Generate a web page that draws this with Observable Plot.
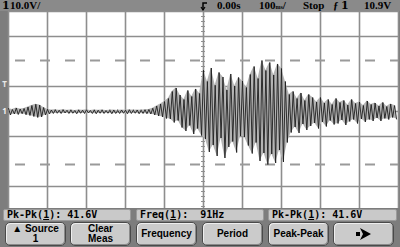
<!DOCTYPE html>
<html><head><meta charset="utf-8">
<script src="https://cdn.jsdelivr.net/npm/d3@7"></script>
<script src="https://cdn.jsdelivr.net/npm/@observablehq/plot@0.6"></script>
<style>
html,body{margin:0;padding:0;background:#7d7d7d;}
#scope{position:relative;width:400px;height:247px;background:#7d7d7d;overflow:hidden;}
#plot{position:absolute;left:0;top:11px;}
#topbar{position:absolute;left:0;top:0;width:400px;height:11px;background:#8a8a8a;font-family:"Liberation Serif","DejaVu Serif",serif;font-weight:bold;color:#000;}
#topbar span{position:absolute;top:0;line-height:11px;font-size:11px;white-space:nowrap;}
#topbar span.big{font-family:"DejaVu Serif",serif;font-size:11px;}
#topbar small{font-size:6px;}
#meas{position:absolute;left:0;top:208px;width:400px;height:13px;background:#7d7d7d;}
.mbox{position:absolute;top:1px;height:10px;background:#c9c9c9;border:1px solid #9a9a9a;border-radius:2px;font-family:"DejaVu Sans Mono",monospace;font-weight:bold;font-size:10px;line-height:10px;padding-left:3px;box-sizing:content-box;white-space:pre;color:#000;}
#keys{position:absolute;left:0;top:221px;width:400px;height:26px;background:#7d7d7d;}
.key{position:absolute;top:1px;width:59px;height:22px;background:#cbcbcb;border:1px solid #4a4a4a;border-radius:5px;box-shadow:inset -1px -1px 0 #8a8a8a, inset 1px 1px 0 #eee;font-family:"Liberation Sans",Arial,sans-serif;font-weight:bold;font-size:10px;color:#000;display:flex;flex-direction:column;align-items:center;justify-content:center;line-height:10px;text-align:center;}
</style></head>
<body>
<div id="scope">
  <div id="plot"></div>
  <div id="topbar"></div>
  <div id="meas"></div>
  <div id="keys"></div>
</div>
<script>
// ---- data ----
// waveform: per 10 ms cycle, the positive peak (hi) and the following negative peak (lo), in volts
const hi = [
  1.2, 0.8, 1.4, 1.0, 1.2, 1.8, 2.4, 2.9, 2.6, 1.6,
  0.9, 0.6, 0.7, 0.5, 0.7, 0.5, 0.6, 0.4, 0.6, 0.5,
  0.7, 0.4, 0.6, 0.5, 0.6, 0.4, 0.5, 0.6, 0.4, 0.6,
  0.5, 0.7, 0.5, 0.6, 0.5, 0.7, 0.8, 1.3, 2.2, 3.0,
  4.0, 5.2, 8.0, 9.4, 6.6, 4.8, 8.4, 6.0, 9.0, 7.2,
  16.5, 12.0, 17.4, 10.5, 15.6, 13.8, 8.6, 15.0, 10.2, 13.6,
  12.2, 9.6, 14.8, 18.0, 13.2, 20.4, 16.4, 19.6, 14.6, 19.0,
  17.2, 12.0, 6.8, 8.0, 5.2, 7.4, 4.4, 6.8, 5.6, 3.8,
  5.6, 3.4, 4.8, 2.8, 5.2, 3.6, 4.4, 2.6, 4.8, 3.2,
  3.8, 2.4, 4.2, 2.8, 3.4, 2.2, 3.6, 2.0, 3.0, 2.4
];
const lo = [
  -1.4, -1.0, -1.2, -0.9, -1.3, -1.6, -2.0, -2.4, -2.2, -1.4,
  -1.0, -0.8, -0.7, -0.8, -0.6, -0.8, -0.7, -0.9, -0.7, -0.8,
  -0.6, -0.8, -0.9, -0.7, -0.8, -0.7, -0.9, -0.8, -0.8, -0.7,
  -0.9, -0.8, -0.7, -0.9, -0.8, -0.9, -1.0, -1.4, -1.8, -2.2,
  -2.8, -3.0, -4.4, -3.6, -6.4, -7.8, -5.6, -9.0, -6.8, -9.6,
  -11.0, -16.2, -13.4, -17.8, -10.6, -18.6, -14.2, -12.0, -16.4, -9.8,
  -10.2, -13.6, -16.8, -12.4, -19.8, -16.6, -21.2, -17.0, -20.6, -15.4,
  -20.2, -12.4, -8.4, -6.2, -8.6, -5.0, -7.4, -5.8, -4.6, -6.8,
  -4.2, -6.0, -3.6, -5.2, -4.8, -3.4, -5.4, -4.0, -3.2, -4.8,
  -3.0, -4.2, -3.2, -3.8, -2.6, -3.8, -2.8, -3.2, -2.4, -3.0
];
const sampleStartMs = -500, cyclePeriodMs = 10;
const timeGridMs = [-500, -400, -300, -200, -100, 0, 100, 200, 300, 400, 500];
const voltGrid = [-40, -30, -10, 0, 10, 30, 40];
const cursorVolts = [20.4, -21.2];
const triggerLevel = 10.9;
const groundLevel = 0;

const topItems = [
  {text: "1", left: 2, big: true},
  {text: "10.0V/", left: 10},
  {text: "0.00s", left: 217},
  {html: "100<small>ms</small>/", left: 259},
  {text: "Stop", left: 303},
  {text: "ƒ", left: 333},
  {text: "1", left: 341, big: true},
  {text: "10.9V", left: 364}
];
const measurements = [
  {name: "Pk-Pk", ch: "1", value: "41.6V", left: 3, width: 123},
  {name: "Freq", ch: "1", value: " 91Hz", left: 136, width: 123},
  {name: "Pk-Pk", ch: "1", value: "41.6V", left: 268, width: 124}
];
const softkeys = [
  {lines: ["\u25B2 Source", "1"], left: 5},
  {lines: ["Clear", "Meas"], left: 70},
  {lines: ["Frequency"], left: 136},
  {lines: ["Period"], left: 202},
  {lines: ["Peak-Peak"], left: 268},
  {lines: [], arrow: true, left: 333}
];

// ---- tables for the trace ----
const peaks = hi.map((v, i) => ({t: sampleStartMs + i * cyclePeriodMs, v}));
const troughs = lo.map((v, i) => ({t: sampleStartMs + i * cyclePeriodMs + cyclePeriodMs / 2, v}));
const trace = peaks.flatMap((p, i) => [p, troughs[i]]);
const minorV = d3.range(-40, 40.01, 2);
const minorT = d3.range(-500, 500.01, 20);

const chart = Plot.plot({
  width: 400, height: 200,
  marginLeft: 8, marginRight: 2, marginTop: 0, marginBottom: 0,
  x: {domain: [-500, 500], axis: null},
  y: {domain: [-40, 40], axis: null},
  style: {background: "transparent", overflow: "visible"},
  marks: [
    Plot.frame({fill: "white", stroke: null}),
    Plot.ruleX(timeGridMs, {stroke: "#8e8e8e", strokeWidth: 1.6}),
    Plot.ruleY(voltGrid, {stroke: "#8e8e8e", strokeWidth: 1.6}),
    Plot.ruleY(cursorVolts, {stroke: "#9a9a9a", strokeWidth: 1.8, strokeDasharray: "10,15", strokeDashoffset: 18}),
    Plot.ruleY(minorV, {x1: -5, x2: 5, stroke: "#8e8e8e", strokeWidth: 1}),
    Plot.ruleX(minorT, {y1: -0.8, y2: 0.8, stroke: "#8e8e8e", strokeWidth: 1}),
    Plot.areaY(peaks, {x: "t", y1: 0, y2: "v", fill: "#b4b4b4"}),
    Plot.areaY(troughs, {x: "t", y1: 0, y2: "v", fill: "#b4b4b4"}),
    Plot.line(trace, {x: "t", y: "v", stroke: "#1e1e1e", strokeWidth: 0.9}),
    Plot.text([triggerLevel], {x: -500, y: d => d, text: () => "T", dx: -4, fill: "#e8e8e8", fontSize: 8, fontWeight: "bold"}),
    Plot.text([groundLevel], {x: -500, y: d => d, text: () => "1", dx: -4, fill: "#f2f2f2", fontSize: 8, fontWeight: "bold"})
  ]
});
document.getElementById("plot").appendChild(chart);

// ---- top status bar ----
const topBar = document.getElementById("topbar");
for (const it of topItems) {
  const s = document.createElement("span");
  if (it.html) s.innerHTML = it.html; else s.textContent = it.text;
  s.style.left = it.left + "px";
  if (it.big) s.className = "big";
  topBar.appendChild(s);
}
// trigger position marker (at t = 0)
const ns = "http://www.w3.org/2000/svg";
const tm = document.createElementNS(ns, "svg");
tm.setAttribute("width", 10); tm.setAttribute("height", 11);
tm.style.position = "absolute"; tm.style.left = "199px"; tm.style.top = "0px";
tm.innerHTML = '<path d="M8 3 H4 V10" fill="none" stroke="#000" stroke-width="1.5"/><path d="M2 7 L4 10 L6 7" fill="none" stroke="#000" stroke-width="1.2"/>';
topBar.appendChild(tm);

// ---- measurement line ----
const measBar = document.getElementById("meas");
for (const m of measurements) {
  const d = document.createElement("div");
  d.className = "mbox";
  d.style.left = m.left + "px"; d.style.width = m.width + "px";
  d.innerHTML = `${m.name}(<u>${m.ch}</u>): ${m.value}`;
  measBar.appendChild(d);
}

// ---- softkeys ----
const keyBar = document.getElementById("keys");
for (const k of softkeys) {
  const d = document.createElement("div");
  d.className = "key";
  d.style.left = k.left + "px";
  if (k.arrow) {
    d.innerHTML = '<svg width="20" height="14"><path d="M2 5 L6 5 L6 9 L2 9 Z M6 1 L17 7 L6 13 L9 7 Z" fill="#000"/></svg>';
  } else {
    d.innerHTML = k.lines.map(l => `<div>${l}</div>`).join("");
  }
  keyBar.appendChild(d);
}
</script>
</body></html>
